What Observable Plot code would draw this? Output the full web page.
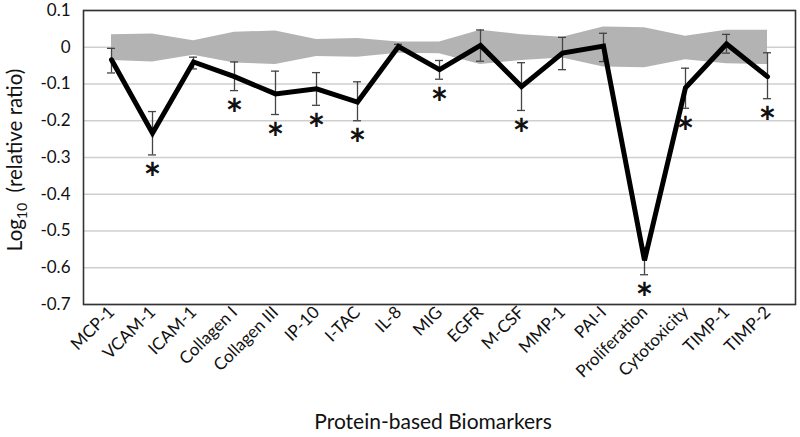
<!DOCTYPE html>
<html>
<head>
<meta charset="utf-8">
<script src="https://cdn.jsdelivr.net/npm/d3@7"></script>
<script src="https://cdn.jsdelivr.net/npm/@observablehq/plot@0.6"></script>
<style>
  html, body { margin: 0; padding: 0; background: #fff; }
  #chart { width: 800px; height: 437px; }
</style>
</head>
<body>
<div id="chart"></div>
<script>
const categories = ["MCP-1","VCAM-1","ICAM-1","Collagen I","Collagen III","IP-10","I-TAC","IL-8","MIG","EGFR","M-CSF","MMP-1","PAI-I","Proliferation","Cytotoxicity","TIMP-1","TIMP-2"];
const values   = [-0.034,-0.234,-0.040,-0.080,-0.127,-0.113,-0.149, 0.002,-0.061, 0.005,-0.107,-0.016, 0.003,-0.580,-0.110, 0.009,-0.080];
const errHigh  = [-0.003,-0.175,-0.027,-0.040,-0.065,-0.069,-0.094, 0.008,-0.036, 0.047,-0.042, 0.027, 0.038,-0.545,-0.057, 0.035,-0.015];
const errLow   = [-0.070,-0.293,-0.059,-0.118,-0.183,-0.158,-0.200,-0.003,-0.087,-0.038,-0.172,-0.061,-0.039,-0.619,-0.166,-0.016,-0.140];
const bandHigh = [ 0.034, 0.036, 0.018, 0.041, 0.044, 0.021, 0.024, 0.014, 0.014, 0.046, 0.034, 0.027, 0.055, 0.053, 0.030, 0.046, 0.046];
const bandLow  = [-0.036,-0.040,-0.022,-0.043,-0.047,-0.025,-0.027,-0.016,-0.018,-0.047,-0.036,-0.029,-0.054,-0.056,-0.034,-0.045,-0.047];
const significant = ["VCAM-1","Collagen I","Collagen III","IP-10","I-TAC","MIG","M-CSF","Proliferation","Cytotoxicity","TIMP-2"];
const yTicks = [0.1, 0, -0.1, -0.2, -0.3, -0.4, -0.5, -0.6, -0.7];

const data = categories.map((c, i) => ({
  cat: c, v: values[i], hi: errHigh[i], lo: errLow[i], bh: bandHigh[i], bl: bandLow[i]
}));
const stars = data.filter(d => significant.includes(d.cat));

const font = "Lato, 'Open Sans', sans-serif";

const chart = Plot.plot({
  width: 800,
  height: 437,
  marginLeft: 83,
  marginRight: 5,
  marginTop: 10,
  marginBottom: 133,
  style: { fontFamily: font, fontSize: "17px", color: "#111", background: "#fff" },
  x: { type: "point", domain: categories, padding: 0.5, label: null },
  y: { domain: [-0.7, 0.1], label: null },
  marks: [
    Plot.gridY(yTicks, { stroke: "#cfcfcf", strokeOpacity: 1, strokeWidth: 1.6 }),
    Plot.areaY(data, { x: "cat", y1: "bl", y2: "bh", fill: "#b3b3b3", curve: "linear" }),
    Plot.ruleX(data, { x: "cat", y1: "lo", y2: "hi", stroke: "#444", strokeWidth: 1.3 }),
    Plot.ruleY(data, { x1: "cat", x2: "cat", y: "hi", stroke: "#444", strokeWidth: 1.3, insetLeft: -4, insetRight: -4 }),
    Plot.ruleY(data, { x1: "cat", x2: "cat", y: "lo", stroke: "#444", strokeWidth: 1.3, insetLeft: -4, insetRight: -4 }),
    Plot.line(data, { x: "cat", y: "v", stroke: "#000", strokeWidth: 5, strokeLinejoin: "miter", strokeMiterlimit: 3 }),
    Plot.text(stars, { x: "cat", y: "lo", text: () => "*", fontSize: 42, fontWeight: "bold", dy: 26, fill: "#111", fontFamily: font }),
    Plot.axisY(yTicks, { tickSize: 0, tickPadding: 13, fontSize: 17, tickFormat: d => d === 0 ? "0" : d.toFixed(1), label: null }),
    Plot.axisX({ tickSize: 0, tickPadding: 5, tickRotate: -45, fontSize: 17, label: null }),
    Plot.frame({ stroke: "#333", strokeWidth: 1.6 })
  ]
});

const svg = d3.select(chart);
// y-axis title with subscript
const yt = svg.append("text")
  .attr("transform", "translate(22,160) rotate(-90)")
  .attr("text-anchor", "middle")
  .attr("font-family", font)
  .attr("font-size", 20.5)
  .attr("fill", "#111");
yt.append("tspan").text("Log");
yt.append("tspan").attr("font-size", 14).attr("dy", 5).text("10");
yt.append("tspan").attr("dy", -5).text("\u00a0 (relative ratio)");
// x-axis title
svg.append("text")
  .attr("x", 433).attr("y", 429)
  .attr("text-anchor", "middle")
  .attr("font-family", font)
  .attr("font-size", 21)
  .attr("fill", "#111")
  .text("Protein-based Biomarkers");

document.getElementById("chart").appendChild(chart);
</script>
</body>
</html>
